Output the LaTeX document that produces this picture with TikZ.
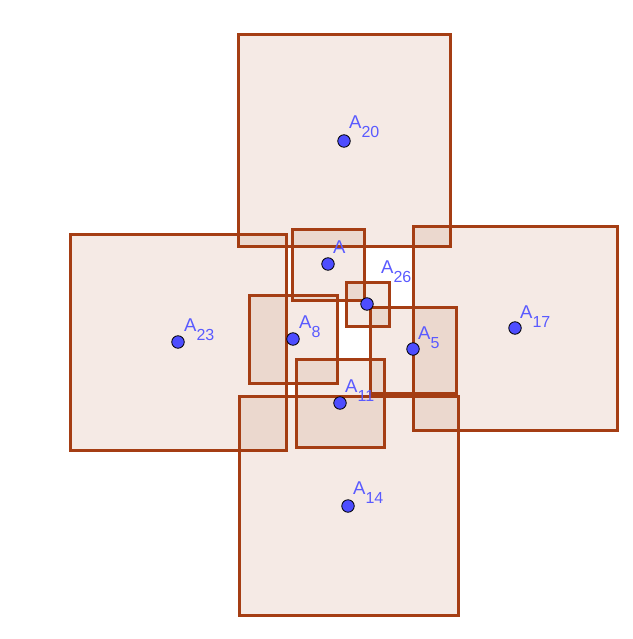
\documentclass[tikz,border=0pt]{standalone}
\usepackage{fontspec}
\setmainfont{Liberation Sans}
\definecolor{sqbrown}{RGB}{165,62,20}
\definecolor{sqfill}{RGB}{153,51,0}
\definecolor{ptblue}{RGB}{77,77,255}
\definecolor{lblblue}{RGB}{90,90,255}
\tikzset{
  sq/.style={draw=sqbrown, line width=3pt, fill=sqfill, fill opacity=0.1, draw opacity=1, line join=miter},
  pt/.style={circle, draw=black, line width=0.8pt, fill=ptblue, minimum size=12.5pt, inner sep=0pt},
  lbl/.style={anchor=base west, inner sep=0pt, text=lblblue},
}
\newcommand{\lab}[1]{{\fontsize{18.5}{18.5}\selectfont A}\raisebox{-9pt}{\fontsize{16}{16}\selectfont #1}}
\begin{document}
\begin{tikzpicture}[x=1pt,y=-1pt]
\useasboundingbox (0,0) rectangle (632,639);
% large squares
\draw[sq] (238,35) rectangle (450,246);
\draw[sq] (70,234) rectangle (286,450);
\draw[sq] (413,226) rectangle (617,430);
\draw[sq] (239,396) rectangle (458,615);
% small squares
\draw[sq] (292,229) rectangle (364,300);
\draw[sq] (249,295) rectangle (337,383);
\draw[sq] (370,307) rectangle (456,393);
\draw[sq] (296,359) rectangle (384,447);
\draw[sq] (346,282) rectangle (389,326);
% points
\node[pt] (A20) at (344,141) {};
\node[pt] (A23) at (178,342) {};
\node[pt] (A17) at (515,328) {};
\node[pt] (A14) at (348,506) {};
\node[pt] (A) at (328,264) {};
\node[pt] (A8) at (293,339) {};
\node[pt] (A5) at (413,349) {};
\node[pt] (A11) at (340,403) {};
\node[pt] (A26) at (367,304) {};
% labels
\node[lbl] (lA20) at (349,129) {\lab{20}};
\node[lbl] (lA23) at (184,331) {\lab{23}};
\node[lbl] (lA17) at (520,318) {\lab{17}};
\node[lbl] (lA14) at (353,494) {\lab{14}};
\node[lbl] (lA) at (333,253) {\fontsize{18.5}{18.5}\selectfont A};
\node[lbl] (lA8) at (299,328) {\lab{8}};
\node[lbl] (lA5) at (418,339) {\lab{5}};
\node[lbl] (lA11) at (345,392) {\lab{11}};
\node[lbl] (lA26) at (381,273) {\lab{26}};
\end{tikzpicture}
\end{document}
